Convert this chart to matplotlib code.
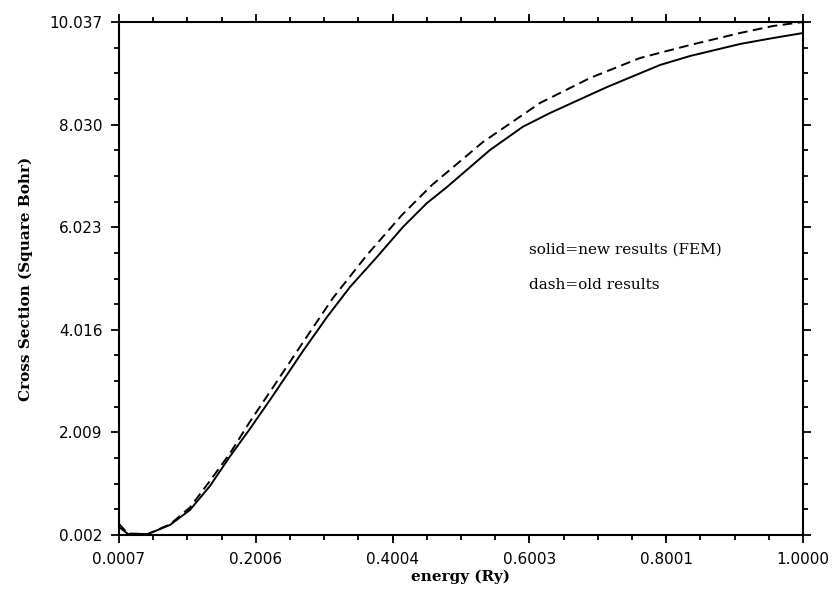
import matplotlib
matplotlib.use("Agg")
import matplotlib.pyplot as plt
from matplotlib.ticker import AutoMinorLocator

# values
new_x = [0.0007, 0.0138, 0.0431, 0.0752, 0.1044, 0.1190, 0.1336, 0.1629, 0.1921, 0.2242,
         0.2695, 0.3046, 0.3382, 0.3776, 0.4156, 0.4507, 0.4799, 0.5427, 0.5910, 0.6304,
         0.7137, 0.7911, 0.8349, 0.9080, 0.9562, 1.0000]
new_y = [0.159, 0.022, 0.022, 0.198, 0.491, 0.726, 0.960, 1.540, 2.080, 2.700,
         3.600, 4.266, 4.853, 5.440, 6.027, 6.496, 6.809, 7.533, 7.990, 8.257,
         8.765, 9.196, 9.372, 9.607, 9.724, 9.822]

old_x = [0.0007, 0.0138, 0.0431, 0.0752, 0.1044, 0.1336, 0.1629, 0.1921, 0.2242,
         0.2680, 0.3133, 0.3630, 0.4141, 0.4580, 0.5325, 0.6158, 0.6889, 0.7619,
         0.8349, 0.9080, 0.9562, 1.0000]
old_y = [0.220, 0.030, 0.022, 0.210, 0.540, 1.060, 1.600, 2.220, 2.860,
         3.740, 4.638, 5.479, 6.262, 6.849, 7.690, 8.453, 8.942, 9.333,
         9.587, 9.822, 9.959, 10.037]

xticks = [0.0007, 0.2006, 0.4004, 0.6003, 0.8001, 1.0000]
xticklabels = ["0.0007", "0.2006", "0.4004", "0.6003", "0.8001", "1.0000"]
yticks = [0.002, 2.009, 4.016, 6.023, 8.030, 10.037]
yticklabels = ["0.002", "2.009", "4.016", "6.023", "8.030", "10.037"]

fig = plt.figure(figsize=(8.36, 5.92), dpi=100)
ax = fig.add_axes([0.1423, 0.0963, 0.8182, 0.8665])

ax.plot(new_x, new_y, color="black", lw=1.4)
ax.plot(old_x, old_y, color="black", lw=1.4, dashes=(5, 2.8))

ax.set_xlim(xticks[0], xticks[-1])
ax.set_ylim(yticks[0], yticks[-1])
ax.set_xticks(xticks)
ax.set_xticklabels(xticklabels)
ax.set_yticks(yticks)
ax.set_yticklabels(yticklabels)
ax.xaxis.set_minor_locator(AutoMinorLocator(4))
ax.yaxis.set_minor_locator(AutoMinorLocator(4))
ax.tick_params(which="both", direction="out", top=True, right=True,
               width=1.3, labelsize=11, pad=6)
ax.tick_params(which="major", length=6)
ax.tick_params(which="minor", length=3.5)
for s in ax.spines.values():
    s.set_linewidth(1.5)

lab = dict(family="DejaVu Serif", fontweight="bold", fontsize=11)
ax.set_xlabel("energy (Ry)", labelpad=2, **lab)
ax.set_ylabel("Cross Section (Square Bohr)", labelpad=12, **lab)

ax.text(0.599, 0.556, "solid=new results (FEM)", transform=ax.transAxes,
        va="center", ha="left", family="DejaVu Serif", fontsize=11)
ax.text(0.599, 0.487, "dash=old results", transform=ax.transAxes,
        va="center", ha="left", family="DejaVu Serif", fontsize=11)

fig.savefig("out.png", dpi=100)
